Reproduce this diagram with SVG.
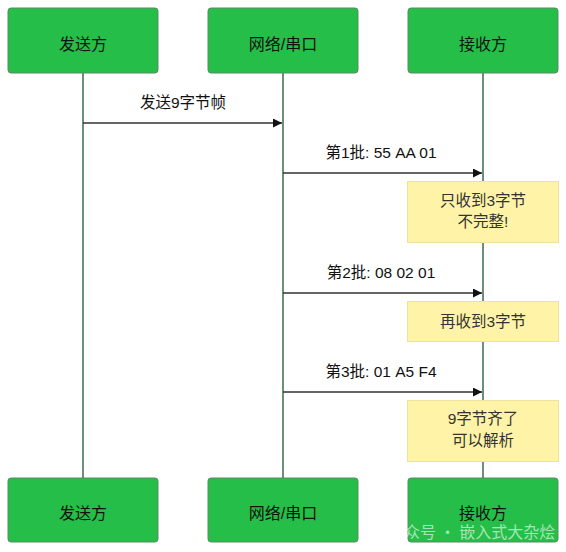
<svg xmlns="http://www.w3.org/2000/svg" width="566" height="552" viewBox="0 0 566 552">
<defs>
<style>
.node rect{fill:#25be48;stroke:#5c8a64;stroke-width:1}
.node text{font-family:"Liberation Sans","Noto Sans CJK SC",sans-serif;font-size:16px;fill:#111;text-anchor:middle}
.life{stroke:#3b6b47;stroke-width:1.5}
.msg{stroke:#333;stroke-width:1.5;fill:none}
.lbl{font-family:"Liberation Sans","Noto Sans CJK SC",sans-serif;font-size:15.5px;fill:#111;text-anchor:middle}
.note rect{fill:#fff3a8;stroke:#efe29e;stroke-width:1}
.note text{font-family:"Liberation Sans","Noto Sans CJK SC",sans-serif;font-size:15.5px;fill:#333;text-anchor:middle}
</style>
<marker id="ah" viewBox="0 0 10 10" refX="10" refY="5" markerWidth="9" markerHeight="9" markerUnits="userSpaceOnUse" orient="auto">
<path d="M0,0 L10,5 L0,10 z" fill="#111"/>
</marker>
</defs>
<rect width="566" height="552" fill="#fff"/>
<g id="lifelines">
<line class="life" x1="83" y1="73" x2="83" y2="478"/>
<line class="life" x1="283" y1="73" x2="283" y2="478"/>
<line class="life" x1="483" y1="73" x2="483" y2="478"/>
</g>
<g id="connectors">
<line class="msg" x1="83" y1="123" x2="282" y2="123" marker-end="url(#ah)"/>
<text class="lbl" x="183" y="108">发送9字节帧</text>
<line class="msg" x1="283" y1="173" x2="482" y2="173" marker-end="url(#ah)"/>
<text class="lbl" x="381" y="158">第1批: 55 AA 01</text>
<line class="msg" x1="283" y1="293" x2="482" y2="293" marker-end="url(#ah)"/>
<text class="lbl" x="381" y="278">第2批: 08 02 01</text>
<line class="msg" x1="283" y1="392" x2="482" y2="392" marker-end="url(#ah)"/>
<text class="lbl" x="381" y="377">第3批: 01 A5 F4</text>
</g>
<g id="sender-top" class="node"><rect x="8" y="8" width="150" height="65" rx="3"/><text x="83" y="50">发送方</text></g>
<g id="net-top" class="node"><rect x="208" y="8" width="150" height="65" rx="3"/><text x="283" y="50">网络/串口</text></g>
<g id="recv-top" class="node"><rect x="408" y="8" width="150" height="65" rx="3"/><text x="483" y="50">接收方</text></g>
<g id="note1" class="note"><rect x="407.500" y="181.500" width="151" height="61"/><text x="483" y="206">只收到3字节</text><text x="483" y="227">不完整!</text></g>
<g id="note2" class="note"><rect x="407.500" y="301.500" width="151" height="40"/><text x="483" y="327">再收到3字节</text></g>
<g id="note3" class="note"><rect x="407.500" y="400.500" width="151" height="61"/><text x="483" y="424">9字节齐了</text><text x="483" y="446">可以解析</text></g>
<g id="sender-bottom" class="node"><rect x="8" y="478" width="150" height="64" rx="3"/><text x="83" y="519">发送方</text></g>
<g id="net-bottom" class="node"><rect x="208" y="478" width="150" height="64" rx="3"/><text x="283" y="519">网络/串口</text></g>
<g id="recv-bottom" class="node"><rect x="408" y="478" width="150" height="64" rx="3"/><text x="483" y="519">接收方</text></g>
<text x="388" y="538" font-family="'Noto Sans CJK SC',sans-serif" font-size="16" fill="#fff" fill-opacity="0.6">公众号 · 嵌入式大杂烩</text>
</svg>
